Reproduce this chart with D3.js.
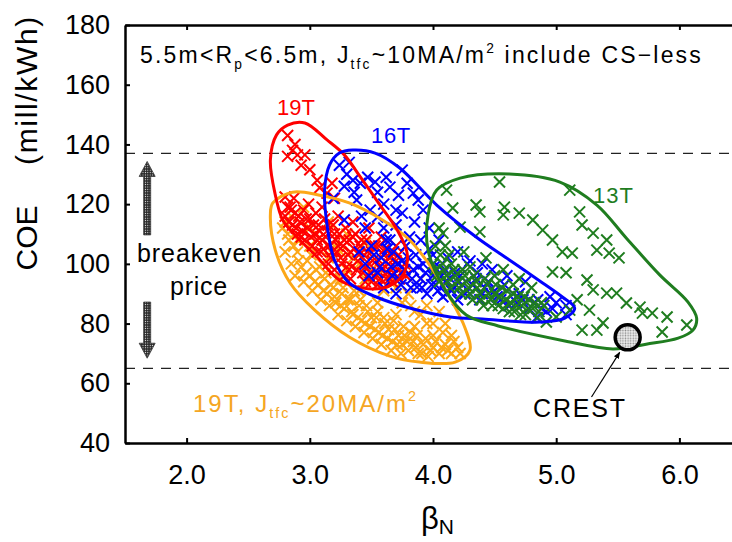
<!DOCTYPE html>
<html>
<head>
<meta charset="utf-8">
<script src="https://cdn.jsdelivr.net/npm/d3@7"></script>
<style>
  body { margin: 0; background: #fff; }
  text { font-family: "Liberation Sans", Arial, Helvetica, sans-serif; }
</style>
</head>
<body>
<svg id="chart" width="732" height="542"></svg>
<script>
// ---- data (beta_N, COE in mill/kWh) ----
let xTicks = [2, 3, 4, 5, 6];
let yTicks = [40, 60, 80, 100, 120, 140, 160, 180];
let breakevenLines = [137, 65];
let crestPoint = [5.58, 75.4];
let priceArrowX = 1.68;
let priceArrows = [[109.7, 134.3], [87.2, 68.4]];

// 19T, Jtfc~20MA/m2 (orange)
let pts19hi = [[2.78,112],[2.80,104],[2.83,108],[2.85,100],[2.88,96],[2.90,104],[2.93,99],[2.95,94],[2.98,101],[3.00,96],
  [3.02,91],[3.05,98],[3.07,93],[3.09,88],[3.12,95],[3.14,90],[3.16,86],[3.19,92],[3.21,87],[3.23,83],[3.26,90],[3.28,85],
  [3.30,81],[3.33,88],[3.35,83],[3.37,79],[3.40,86],[3.42,81],[3.44,77],[3.47,84],[3.49,79],[3.51,75],[3.54,82],[3.56,77],
  [3.58,73],[3.61,80],[3.63,75],[3.66,71],[3.69,78],[3.71,73],[3.74,70],[3.77,76],[3.80,71],[3.84,74],[3.88,70],[3.92,73],
  [3.96,69],[4.00,72],[4.05,70],[4.10,73],[4.15,70],[4.20,72],[3.10,100],[3.25,95],[3.40,91],[3.55,87],[3.70,83],[3.85,79],
  [4.00,76],[4.15,76],[3.05,110],[3.20,106],[3.35,102],[3.50,98],[3.65,94],[3.80,90],[3.95,86],[2.85,116],[2.95,119],
  [3.15,114],[3.30,110],[3.45,107],[3.60,103],[3.75,99],[3.90,95],[4.05,84],[4.10,80],
  [2.82,110],[2.87,106],[2.91,101],[2.97,97],[3.01,103],[3.04,94],[3.08,99],[3.11,91],[3.13,97],[3.17,93],[3.20,89],
  [3.22,95],[3.25,86],[3.27,92],[3.31,88],[3.34,84],[3.36,91],[3.39,82],[3.41,88],[3.45,80],[3.46,86],[3.50,82],[3.53,78],
  [3.55,84],[3.59,76],[3.60,82],[3.64,78],[3.67,74],[3.68,81],[3.72,76],[3.75,73],[3.76,79],[3.79,74],[3.82,77],[3.86,72],
  [3.87,76],[3.91,70],[3.94,75],[3.98,71],[4.02,74],[4.07,72],[4.12,71],[4.17,74],[4.22,70],[3.00,106],[3.15,102],
  [3.30,98],[3.45,95],[3.60,91],[3.75,87],[3.90,83],[4.00,80],[4.08,77],[3.85,84],[2.80,114],[2.90,108],[3.00,112],
  [3.10,108],[3.25,104],[3.40,100],[3.55,96],[3.70,92],[3.82,86],[3.95,80]];

// 19T (red)
let pts19 = [[2.82,143],[2.86,138],[2.82,136],[2.90,136.5],[2.96,136.5],[2.93,133],[3.00,131.5],[3.06,128],[3.08,125.5],
  [3.18,127],[3.20,122],[3.14,123.7],[2.80,122.4],[2.82,119],[2.88,140],
  [2.80,116],[2.84,119],[2.86,113],[2.88,117],[2.90,110],[2.92,114],[2.95,118],[2.96,108],[2.98,112],[3.00,115],[3.02,106],
  [3.04,110],[3.05,117],[3.07,113],[3.09,104],[3.10,108],[3.12,115],[3.14,111],[3.16,106],[3.17,102],[3.19,113],[3.21,108],
  [3.22,104],[3.24,110],[3.26,100],[3.27,106],[3.29,112],[3.31,103],[3.32,108],[3.34,99],[3.36,105],[3.37,110],[3.39,101],
  [3.41,106],[3.43,97],[3.44,103],[3.46,108],[3.48,100],[3.50,104],[3.52,96],[3.54,101],[3.56,106],[3.58,98],[3.60,103],
  [3.62,95],[3.64,100],[3.66,104],[3.68,97],[3.70,101],[3.73,95],[3.75,99],[3.78,96],[2.93,109],[3.06,104],[3.15,100],
  [3.28,96],[3.45,94],[3.55,93],[2.87,122],[2.99,120],[3.10,119],[3.23,116],[3.35,114],[3.48,112],[3.58,109],[3.70,106],
  [2.83,114],[2.85,118],[2.89,112],[2.91,116],[2.94,111],[2.97,115],[3.01,109],[3.03,113],[3.06,108],[3.08,111],
  [3.11,105],[3.13,109],[3.15,113],[3.18,104],[3.20,110],[3.23,106],[3.25,102],[3.28,108],[3.30,99],[3.33,104],
  [3.35,109],[3.38,98],[3.40,103],[3.42,108],[3.45,99],[3.47,104],[3.49,97],[3.51,101],[3.53,106],[3.57,95],[3.59,100],
  [3.61,105],[3.63,97],[3.65,102],[3.67,94],[3.69,99],[3.72,103],[3.74,97],[3.77,100],[3.33,95],[3.50,94],[3.65,95],
  [3.20,98]];

// 16T (blue)
let pts16 = [[3.24,133],[3.32,134],[3.35,128],[3.41,127],[3.47,129],[3.53,127.4],[3.55,124],[3.65,125.7],[3.75,131.4],
  [3.79,127],[3.84,123.7],[3.88,121.4],[3.49,118],[3.55,115.7],[3.75,117],[3.81,109],[3.19,122],[3.38,121.4],[3.28,114.7],
  [3.65,108],[3.60,120],[3.70,113],[3.92,118],[3.45,112],[3.28,126],
  [3.40,104],[3.45,100],[3.50,106],[3.55,97],[3.58,102],[3.62,108],[3.66,99],[3.68,104],[3.72,95],[3.75,101],[3.78,106],
  [3.82,92],[3.84,98],[3.86,103],[3.90,95],[3.92,100],[3.95,90],[3.97,105],[4.00,96],[4.02,93],[4.05,99],[4.08,89],
  [4.10,94],[4.12,102],[4.15,91],[4.18,97],[4.20,88],[4.24,93],[4.28,100],[4.30,90],[4.35,95],[4.38,88],[4.42,92],
  [4.48,98],[4.52,89],[4.58,93],[4.62,86],[4.70,90],[4.78,85],[4.85,88],[4.92,84],[5.00,87],[5.08,83],[5.08,86],
  [3.97,112],[4.30,101],[4.95,89],[4.84,82],[3.87,92.2],[3.60,92],[3.70,90],[3.48,96],[4.05,108],[4.20,104],[4.40,100],
  [4.60,96],[4.75,94],
  [3.52,103],[3.57,99],[3.63,105],[3.67,96],[3.71,100],[3.74,93],[3.77,98],[3.80,102],[3.83,95],[3.88,99],[3.91,92],
  [3.94,97],[3.99,93],[4.01,99],[4.04,91],[4.07,96],[4.11,90],[4.14,95],[4.17,92],[4.22,96],[4.26,90],[4.32,93],
  [4.36,97],[4.40,90],[4.45,94],[4.50,91],[4.55,88],[4.65,90],[4.68,87],[4.73,88],[4.82,87],[4.88,85],[4.97,85],
  [3.60,112],[3.70,118],[3.85,114],[3.90,108],[4.00,103],[4.10,98],[3.42,116],[3.36,124],[3.30,130],[3.62,129],[3.72,123]];

// 13T (green)
let pts13 = [[4.54,127.4],[5.11,124.7],[4.11,124.7],[4.16,118.7],[4.35,119.7],[4.38,117.4],[4.58,119],[4.57,116.4],
  [4.70,117],[4.81,114.7],[4.89,111.3],[4.97,108],[5.05,104],[5.13,103.6],[5.19,117.4],[5.21,113],[5.30,110.3],[5.41,108],
  [5.33,104.6],[5.43,103.6],[5.51,102],[4.22,112.3],[4.38,110.7],[4.08,110.3],
  [4.97,97.3],[5.08,97],[5.25,94.6],[5.30,91.3],[5.41,90.2],[5.49,90.2],[5.57,86.9],[5.68,85.5],[5.78,83.5],[5.90,82.2],
  [5.86,77.2],[6.06,79.5],[5.17,88],[5.27,84.5],[5.21,77.8],[5.33,77.8],[5.38,80.2],[4.92,80.5],[5.00,82.2],[5.11,84.5],
  [5.70,83.5],
  [4.00,100],[4.03,96],[4.06,103],[4.09,98],[4.12,94],[4.15,100],[4.18,96],[4.21,92],[4.24,98],[4.27,94],[4.30,90],
  [4.33,96],[4.36,92],[4.39,88],[4.42,95],[4.45,90],[4.48,86],[4.51,93],[4.54,89],[4.57,85],[4.60,91],[4.63,87],[4.66,84],
  [4.69,89],[4.72,86],[4.75,83],[4.78,88],[4.81,85],[4.85,82],[4.88,87],[4.43,102],[4.57,98],[4.70,95],[4.80,92],
  [4.10,106],[4.25,104],
  [4.02,98],[4.05,94],[4.08,100],[4.11,96],[4.14,92],[4.17,98],[4.20,94],[4.23,90],[4.26,96],[4.29,92],[4.32,88],
  [4.35,94],[4.38,90],[4.41,86],[4.44,93],[4.47,88],[4.50,90],[4.53,86],[4.56,92],[4.59,88],[4.62,84],[4.65,90],
  [4.68,86],[4.71,83],[4.74,89],[4.77,85],[4.83,87],[4.86,84],[4.90,86],[4.02,106],[4.05,112],[4.13,103],[4.30,99],
  [4.50,96],[4.65,93]];

// outlines drawn round each group
let hull19hi = [[2.70,120.4],[2.86,124],[3.08,123],[3.32,120.4],[3.59,114.7],[3.81,108],[3.99,98.6],[4.14,88.5],[4.26,78.5],
  [4.30,71.1],[4.18,67.1],[3.89,67.1],[3.65,69.1],[3.32,75.5],[3.04,84.5],[2.84,93.6],[2.72,104.6],[2.68,116.4]];
let hull19 = [[2.68,134.8],[2.73,143.2],[2.82,146.5],[2.96,147.2],[3.14,141.5],[3.28,136.5],[3.41,129.1],[3.57,119.7],
  [3.71,111.3],[3.79,103.6],[3.77,97.3],[3.69,93.6],[3.59,91.9],[3.43,91.9],[3.24,94.6],[3.06,102.3],[2.88,109.7],
  [2.78,114.7],[2.72,123.1]];
let hull16 = [[3.35,138.1],[3.53,137.1],[3.73,132.1],[4.03,119.7],[4.35,109.0],[4.62,101.3],[4.89,93.6],[5.05,88.9],
  [5.15,85.2],[5.07,81.8],[4.87,80.5],[4.40,81.5],[4.14,82.2],[3.81,85.2],[3.54,88.9],[3.32,93.6],[3.20,101.3],
  [3.14,113.0],[3.12,124.7],[3.16,133.1],[3.24,137.1]];
let hull13 = [[4.03,124.7],[4.22,128.7],[4.62,130.1],[5.03,127.4],[5.33,119.7],[5.57,108.6],[5.84,96.3],[6.07,87.2],
  [6.14,81.8],[6.11,77.8],[5.99,75.1],[5.73,73.1],[5.46,71.5],[5.08,74.1],[4.53,79.2],[4.27,82.9],[4.10,91.2],
  [3.96,104.6],[3.96,116.4]];

let groups = [
  { pts: pts19hi, hull: hull19hi, color: "#fca718" },
  { pts: pts19,   hull: hull19,   color: "#ff0000" },
  { pts: pts16,   hull: hull16,   color: "#0000ff" },
  { pts: pts13,   hull: hull13,   color: "#1f7d1f" }
];

// ---- layout ----
let margin = { left: 125, top: 25 };
let plotW = 616, plotH = 418;

let svg = d3.select("#chart");
let defs = svg.append("defs");

let dots = defs.append("pattern").attr("id", "dots")
  .attr("width", 2.4).attr("height", 2.4).attr("patternUnits", "userSpaceOnUse");
dots.append("rect").attr("width", 2.4).attr("height", 2.4).attr("fill", "#2a2a2a");
dots.append("circle").attr("cx", 1.2).attr("cy", 1.2).attr("r", 0.55).attr("fill", "#fff");

let greyDots = defs.append("pattern").attr("id", "greydots")
  .attr("width", 2.6).attr("height", 2.6).attr("patternUnits", "userSpaceOnUse");
greyDots.append("rect").attr("width", 2.6).attr("height", 2.6).attr("fill", "#eeeeee");
greyDots.append("circle").attr("cx", 1.3).attr("cy", 1.3).attr("r", 0.8).attr("fill", "#8a8a8a");

defs.append("marker").attr("id", "head")
  .attr("viewBox", "0 0 10 10").attr("refX", 9).attr("refY", 5)
  .attr("markerWidth", 7).attr("markerHeight", 7).attr("markerUnits", "userSpaceOnUse")
  .attr("orient", "auto")
  .append("path").attr("d", "M0,1L10,5L0,9z").attr("fill", "#000");

let g = svg.append("g").attr("transform", `translate(${margin.left},${margin.top})`);

let x = d3.scaleLinear().domain([1.5, 6.5]).range([0, plotW]);
let y = d3.scaleLinear().domain([40, 180]).range([plotH, 0]);

// breakeven dashed lines
g.selectAll(".be").data(breakevenLines).enter().append("line")
  .attr("x1", 0).attr("x2", plotW)
  .attr("y1", d => y(d)).attr("y2", d => y(d))
  .attr("stroke", "#222").attr("stroke-width", 1.4).attr("stroke-dasharray", "10,8");

// x markers
let cross = "M-5.5,-5.5L5.5,5.5M-5.5,5.5L5.5,-5.5";
groups.forEach(grp => {
  g.append("g").selectAll("path").data(grp.pts).enter().append("path")
    .attr("d", cross)
    .attr("transform", d => `translate(${x(d[0])},${y(d[1])})`)
    .attr("fill", "none").attr("stroke", grp.color).attr("stroke-width", 2);
});

// outlines
let hullLine = d3.line().x(d => x(d[0])).y(d => y(d[1])).curve(d3.curveCatmullRomClosed.alpha(0.5));
groups.forEach(grp => {
  g.append("path").attr("d", hullLine(grp.hull))
    .attr("fill", "none").attr("stroke", grp.color).attr("stroke-width", 3);
});

// CREST point
g.append("circle").attr("cx", x(crestPoint[0])).attr("cy", y(crestPoint[1])).attr("r", 12.5)
  .attr("fill", "url(#greydots)").attr("stroke", "#000").attr("stroke-width", 3.5);

g.append("line")
  .attr("x1", 591.5 - margin.left).attr("y1", 397 - margin.top)
  .attr("x2", x(crestPoint[0]) - 8).attr("y2", y(crestPoint[1]) + 15)
  .attr("stroke", "#000").attr("stroke-width", 1.2).attr("marker-end", "url(#head)");

// breakeven price arrows
priceArrows.forEach(a => {
  let cx = x(priceArrowX), y0 = y(a[0]), y1 = y(a[1]);
  let dir = Math.sign(y1 - y0), hb = y1 - dir * 15;
  let shape = [[cx - 3.5, y0], [cx + 3.5, y0], [cx + 3.5, hb], [cx + 8, hb], [cx, y1], [cx - 8, hb], [cx - 3.5, hb]];
  g.append("path").attr("d", "M" + shape.map(p => p.join(",")).join("L") + "Z")
    .attr("fill", "url(#dots)").attr("stroke", "#333").attr("stroke-width", 0.8);
});

// axes
let xAxis = g.append("g").attr("transform", `translate(0,${plotH})`)
  .call(d3.axisBottom(x).tickValues(xTicks).tickFormat(d3.format(".1f"))
    .tickSizeInner(-5).tickSizeOuter(0).tickPadding(22));
let xTop = g.append("g")
  .call(d3.axisTop(x).tickValues(xTicks).tickFormat("").tickSizeInner(-5).tickSizeOuter(0));
let yAxis = g.append("g")
  .call(d3.axisLeft(y).tickValues(yTicks).tickFormat(d3.format("d"))
    .tickSizeInner(-5).tickSizeOuter(0).tickPadding(15));
let yRight = g.append("g").attr("transform", `translate(${plotW},0)`)
  .call(d3.axisRight(y).tickValues(yTicks).tickFormat("").tickSizeInner(-5).tickSizeOuter(0));

[xAxis, xTop, yAxis, yRight].forEach(ax => {
  ax.select(".domain").attr("stroke", "#000").attr("stroke-width", 2.5);
  ax.selectAll(".tick line").attr("stroke", "#000").attr("stroke-width", 2);
  ax.selectAll("text").attr("fill", "#000").style("font-size", "27px")
    .style("font-family", "\"Liberation Sans\", Arial, sans-serif");
});

// ---- texts ----
function fitWidth(sel, w) {
  let cur = sel.node().getComputedTextLength();
  let n = sel.text().length;
  sel.attr("letter-spacing", ((w - cur) / n).toFixed(2));
}

function richText(parent, parts, px, py, size, color) {
  let t = parent.append("text").attr("x", px).attr("y", py)
    .style("font-size", size + "px").attr("fill", color);
  let shift = 0;
  parts.forEach(p => {
    let target = p.sub ? size * 0.26 : p.sup ? -size * 0.42 : 0;
    t.append("tspan").text(p.t).attr("dy", target - shift)
      .style("font-size", (p.sub || p.sup ? size * 0.6 : size) + "px");
    shift = target;
  });
  return t;
}

let title = richText(svg, [
  { t: "5.5m<R" }, { t: "p", sub: true }, { t: "<6.5m, J" }, { t: "tfc", sub: true },
  { t: "~10MA/m" }, { t: "2", sup: true }, { t: " include CS\u2212less" }
], 140, 63, 23, "#000");
fitWidth(title, 563);

let lab20 = richText(svg, [
  { t: "19T, J" }, { t: "tfc", sub: true }, { t: "~20MA/m" }, { t: "2", sup: true }
], 193, 411.5, 24, "#f5a623");
fitWidth(lab20, 225);

let seriesLabels = [
  { t: "19T", x: 277, y: 115, c: "#ff0000", w: 38 },
  { t: "16T", x: 371, y: 143, c: "#0000ff", w: 40 },
  { t: "13T", x: 593, y: 203, c: "#1f7d1f", w: 41 }
];
seriesLabels.forEach(l => {
  let t = svg.append("text").attr("x", l.x).attr("y", l.y).attr("fill", l.c)
    .style("font-size", "22px").text(l.t);
  fitWidth(t, l.w);
});

let be1 = svg.append("text").attr("x", 137).attr("y", 261.5).style("font-size", "25px").text("breakeven");
fitWidth(be1, 125);
let be2 = svg.append("text").attr("x", 170).attr("y", 295).style("font-size", "25px").text("price");
fitWidth(be2, 58);

let crestLab = svg.append("text").attr("x", 533).attr("y", 417).style("font-size", "25px").text("CREST");
fitWidth(crestLab, 94);

// axis titles
let coe = svg.append("text").attr("transform", "translate(37,238) rotate(-90)")
  .attr("text-anchor", "middle").style("font-size", "30px").text("COE");
let unit = svg.append("text").attr("transform", "translate(37,90) rotate(-90)")
  .attr("text-anchor", "middle").style("font-size", "30px").text("(mill/kWh)");
fitWidth(unit, 150);

let bx = svg.append("text").attr("x", 421).attr("y", 529).style("font-size", "31px");
bx.append("tspan").text("\u03b2");
bx.append("tspan").text("N").attr("dy", 5).style("font-size", "21px");
</script>
</body>
</html>
